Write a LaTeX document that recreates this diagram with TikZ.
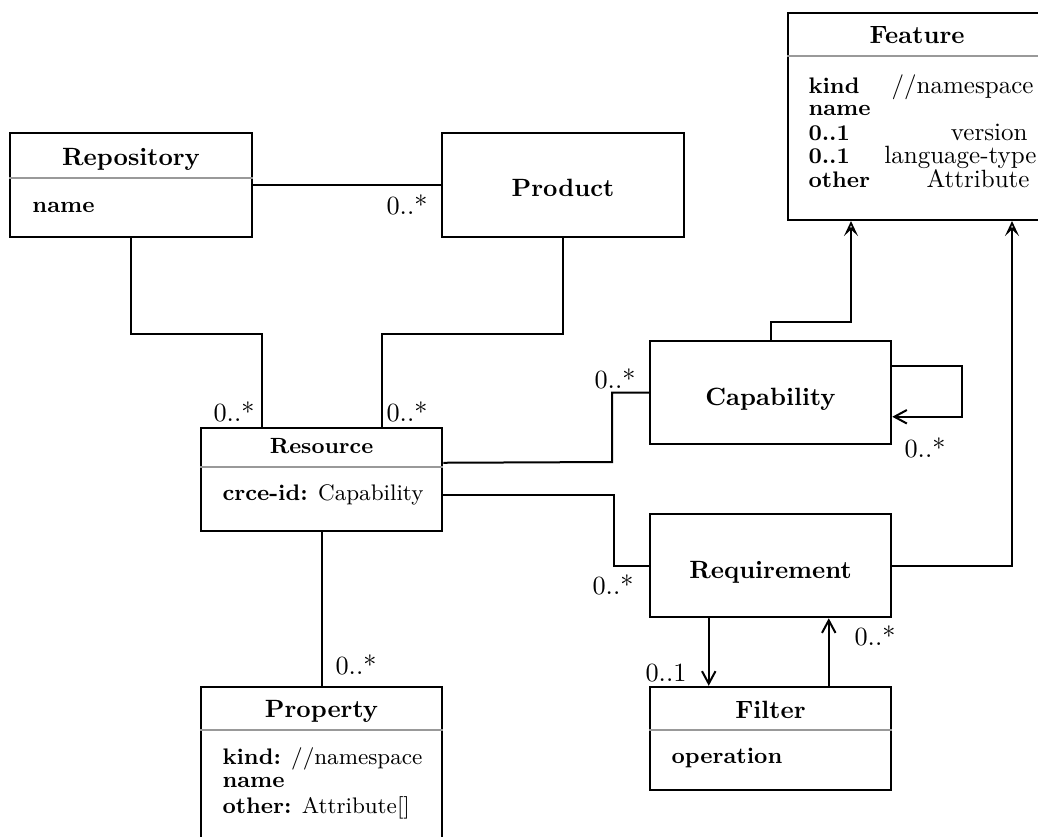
\documentclass[tikz,border=0pt]{standalone}
\usetikzlibrary{arrows.meta,calc}
\begin{document}
\begin{tikzpicture}[x=0.4pt,y=-0.4pt,
  cls/.style={draw, line width=0.8pt, inner sep=0pt, minimum width=96.6pt, minimum height=41.4pt},
  ttl/.style={anchor=base, font=\fontsize{10}{12}\selectfont\bfseries, inner sep=0pt},
  attr/.style={anchor=base west, font=\fontsize{9}{11}\selectfont, inner sep=0pt},
  attrr/.style={anchor=base east, font=\fontsize{10}{12}\selectfont, inner sep=0pt},
  mult/.style={font=\fontsize{10.5}{12}\selectfont, inner sep=0pt},
  sep/.style={draw=black!40, line width=0.8pt},
  link/.style={draw, line width=0.8pt},
  gen/.style={link, -{Stealth[open, length=6pt, width=5.6pt, inset=2.6pt, line width=0.7pt]}},
  nav/.style={link, -{Straight Barb[length=5pt, width=5.4pt]}},
]
\clip (0,0) rectangle (1038,836);

% class boxes
\node[cls, minimum width=103.2pt, minimum height=82.8pt] (feat) at (917,116.5) {};
\node[cls] (repo) at (131,185) {};
\node[cls] (prod) at (563,185) {};
\node[cls] (res)  at (321.5,479.5) {};
\node[cls] (cap)  at (770.5,392.5) {};
\node[cls] (req)  at (770.5,565.5) {};
\node[cls] (filt) at (770.5,738.5) {};
\node[cls, minimum height=85.2pt] (prop) at (321.5,793.5) {};

% compartment separators
\draw[sep] ($(feat.north west)+(0,44)$) -- ($(feat.north east)+(0,44)$);
\draw[sep] ($(repo.north west)+(0,46)$) -- ($(repo.north east)+(0,46)$);
\draw[sep] ($(res.north west)+(0,40)$)  -- ($(res.north east)+(0,40)$);
\draw[sep] ($(prop.north west)+(0,44)$) -- ($(prop.north east)+(0,44)$);
\draw[sep] ($(filt.north west)+(0,44)$) -- ($(filt.north east)+(0,44)$);

% titles
\node[ttl] (feat-t) at (917,43)    {Feature};
\node[ttl] (repo-t) at (131,165)   {Repository};
\node[ttl] (prod-t) at (563,196)   {Product};
\node[ttl, font=\fontsize{8.8}{11}\selectfont\bfseries] (res-t) at (321.5,453) {Resource};
\node[ttl] (cap-t)  at (770.5,405) {Capability};
\node[ttl] (req-t)  at (770.5,578) {Requirement};
\node[ttl] (filt-t) at (770.5,718) {Filter};
\node[ttl] (prop-t) at (321.5,717) {Property};

% attributes
\node[attr]  (f-a1) at (808,93)   {\textbf{kind}};
\node[attr]  (f-a2) at (808,115)  {\textbf{name}};
\node[attr]  (f-a3) at (808,140)  {\textbf{0..1}};
\node[attr]  (f-a4) at (808,163)  {\textbf{0..1}};
\node[attr]  (f-a5) at (808,187)  {\textbf{other}};
\node[attrr] (f-b1) at (1034,93)  {//namespace};
\node[attrr] (f-b3) at (1028,140) {version};
\node[attrr] (f-b4) at (1037,163) {language-type};
\node[attrr] (f-b5) at (1030,187) {Attribute};

\node[attr] (repo-a) at (32,212)  {\textbf{name}};
\node[attr] (res-a)  at (222,500) {\textbf{crce-id:} Capability};
\node[attr] (filt-a) at (671,763) {\textbf{operation}};
\node[attr] (prop-a1) at (222,764) {\textbf{kind:} //namespace};
\node[attr] (prop-a2) at (222,787) {\textbf{name}};
\node[attr] (prop-a3) at (222,813) {\textbf{other:} Attribute[]};

% associations
\draw[link] (repo.east) -- (prod.west);
\draw[link] (repo.south) -- ++(0,96) -| ($(res.north)+(-60,0)$);
\draw[link] (prod.south) -- ++(0,96) -| ($(res.north)+(60,0)$);
\draw[link] ($(res.north east)+(0,36)$) -- (612,462) |- (cap.west);
\draw[link] ($(res.north east)+(0,68)$) -| ($(req.west)+(-35,0)$) -- (req.west);
\draw[link] (res.south) -- (prop.north);

% generalisations to Feature
\draw[gen] (cap.north) -- ++(0,-18) -| ($(feat.south west)+(64,0)$);
\draw[gen] (req.east) -| ($(feat.south west)+(225,0)$);

% navigable links
\draw[nav] ($(cap.north east)+(0,26)$) -- ++(70,0) |- ($(cap.north east)+(0,77)$);
\draw[nav] ($(req.south west)+(60,0)$) -- ($(filt.north west)+(60,0)$);
\draw[nav] ($(filt.north west)+(180,0)$) -- ($(req.south west)+(180,0)$);

% multiplicities
\node[mult] (m1) at (407,205) {0..*};
\node[mult] (m2) at (234,412) {0..*};
\node[mult] (m3) at (407,412) {0..*};
\node[mult] (m4) at (615,379) {0..*};
\node[mult] (m5) at (925,448) {0..*};
\node[mult] (m6) at (613,585) {0..*};
\node[mult] (m7) at (666,673) {0..1};
\node[mult] (m8) at (875,636) {0..*};
\node[mult] (m9) at (356,665) {0..*};
\end{tikzpicture}
\end{document}
